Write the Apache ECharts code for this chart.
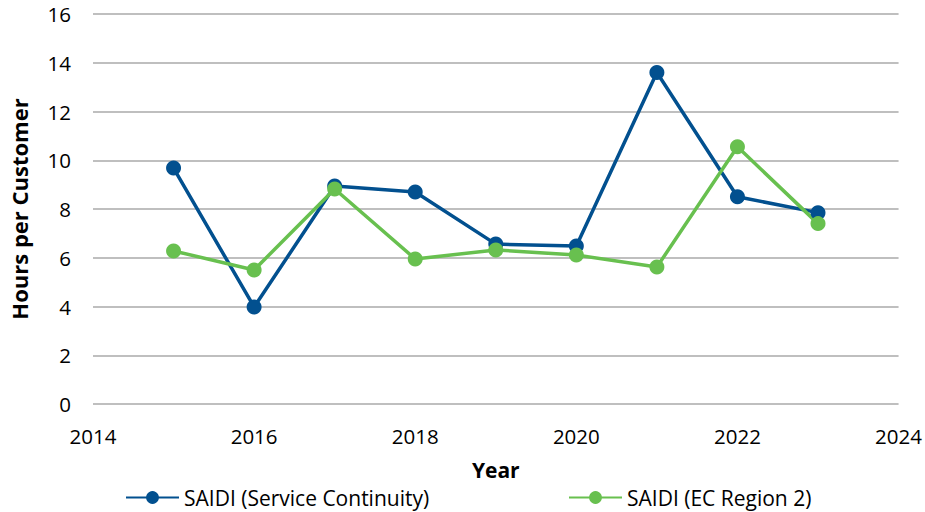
<!DOCTYPE html>
<html>
<head>
<meta charset="utf-8">
<script src="https://cdn.jsdelivr.net/npm/echarts@6/dist/echarts.min.js"></script>
<style>
  html, body { margin: 0; padding: 0; background: #fff; }
  #chart { width: 925px; height: 512px; }
</style>
</head>
<body>
<div id="chart"></div>
<script>
// years on the x axis
const years = [2015, 2016, 2017, 2018, 2019, 2020, 2021, 2022, 2023]
// SAIDI values, hours per customer
const serviceContinuity = [9.68, 3.98, 8.94, 8.7, 6.56, 6.48, 13.6, 8.5, 7.85]
const ecRegion2 = [6.28, 5.5, 8.82, 5.95, 6.32, 6.11, 5.62, 10.55, 7.4]

const font = 'Open Sans'
const blue = '#02508f'
const green = '#68c04f'

const pairs = (vals) => years.map((y, i) => [y, vals[i]])

const chart = echarts.init(document.getElementById('chart'), null, { renderer: 'svg' })

chart.setOption({
  animation: false,
  grid: { left: 90, right: 26, top: 14, bottom: 108 },
  legend: [
    {
      left: 125, top: 487, padding: 0,
      itemWidth: 53, itemHeight: 16,
      textStyle: { fontFamily: font, fontSize: 21, color: '#000' },
      data: ['SAIDI (Service Continuity)']
    },
    {
      left: 568, top: 487, padding: 0,
      itemWidth: 53, itemHeight: 16,
      textStyle: { fontFamily: font, fontSize: 21, color: '#000' },
      data: ['SAIDI (EC Region 2)']
    }
  ],
  xAxis: {
    type: 'value',
    min: 2014, max: 2024, interval: 2,
    name: 'Year',
    nameLocation: 'middle',
    nameGap: 55,
    nameTextStyle: { fontFamily: font, fontSize: 21, fontWeight: 'bold', color: '#000' },
    axisLine: { show: false },
    axisTick: { show: false },
    splitLine: { show: false },
    axisLabel: { fontFamily: font, fontSize: 20.5, color: '#000', margin: 21, formatter: (v) => String(v) }
  },
  yAxis: {
    type: 'value',
    min: 0, max: 16, interval: 2,
    name: 'Hours per Customer',
    nameLocation: 'middle',
    nameGap: 63,
    nameTextStyle: { fontFamily: font, fontSize: 22, fontWeight: 'bold', color: '#000' },
    axisLine: { show: false },
    axisTick: { show: false },
    splitLine: { lineStyle: { color: '#bfbfbf', width: 2 } },
    axisLabel: { fontFamily: font, fontSize: 20.5, color: '#000', margin: 22 }
  },
  series: [
    {
      name: 'SAIDI (Service Continuity)',
      type: 'line',
      data: pairs(serviceContinuity),
      symbol: 'circle',
      symbolSize: 15,
      lineStyle: { color: blue, width: 3.5 },
      itemStyle: { color: blue }
    },
    {
      name: 'SAIDI (EC Region 2)',
      type: 'line',
      data: pairs(ecRegion2),
      symbol: 'circle',
      symbolSize: 15,
      lineStyle: { color: green, width: 3.5 },
      itemStyle: { color: green }
    }
  ]
})
</script>
</body>
</html>
